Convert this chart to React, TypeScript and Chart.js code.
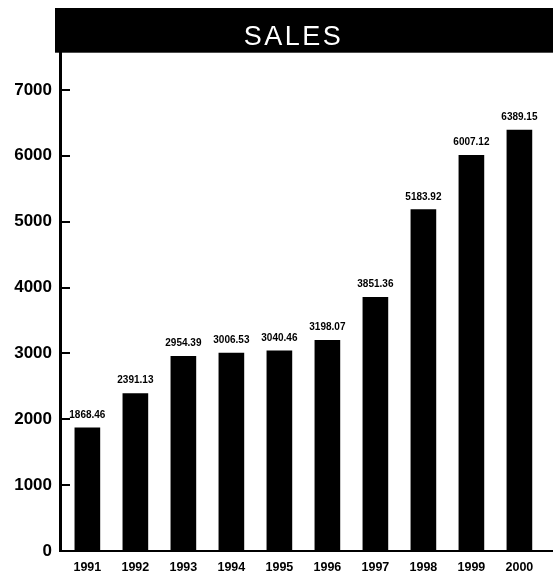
import React, { useEffect, useRef } from "react";
import { Chart, registerables } from "chart.js";

Chart.register(...registerables);

const years: number[] = [1991, 1992, 1993, 1994, 1995, 1996, 1997, 1998, 1999, 2000];
const sales: number[] = [1868.46, 2391.13, 2954.39, 3006.53, 3040.46, 3198.07, 3851.36, 5183.92, 6007.12, 6389.15];
const yTicks: number[] = [0, 1000, 2000, 3000, 4000, 5000, 6000, 7000];
const titleText = "SALES";

const FONT = "'Liberation Sans', Arial, Helvetica, sans-serif";

const titleBarPlugin = {
  id: "titleBar",
  afterLayout(chart: any) {
    const tb = chart.titleBlock;
    if (!tb) return;
    // shift title centring box so text sits where the reference has it
    tb.left = 34;
    tb.right = chart.width;
    tb.width = tb.right - tb.left;
    if (!tb.__spaced) {
      const orig = tb.draw;
      tb.draw = function (...args: any[]) {
        const ctx = chart.ctx;
        ctx.save();
        (ctx as any).letterSpacing = "2.5px";
        orig.apply(this, args);
        ctx.restore();
      };
      tb.__spaced = true;
    }
  },
  beforeDraw(chart: any) {
    const ctx = chart.ctx;
    const tb = chart.titleBlock;
    if (!tb) return;
    ctx.save();
    ctx.fillStyle = "#000";
    const left = chart.chartArea.left - 5;
    ctx.fillRect(left, tb.top, chart.width - left, tb.height);
    ctx.restore();
  },
};

const innerTicksPlugin = {
  id: "innerTicks",
  afterDraw(chart: any) {
    const ctx = chart.ctx;
    const y = chart.scales.y;
    const left = chart.chartArea.left;
    ctx.save();
    ctx.strokeStyle = "#000";
    ctx.lineWidth = 2;
    for (const v of yTicks) {
      const py = Math.round(y.getPixelForValue(v));
      ctx.beginPath();
      ctx.moveTo(left, py);
      ctx.lineTo(left + 10, py);
      ctx.stroke();
    }
    ctx.restore();
  },
};

const valueLabelPlugin = {
  id: "valueLabels",
  afterDatasetsDraw(chart: any) {
    const ctx = chart.ctx;
    const meta = chart.getDatasetMeta(0);
    ctx.save();
    ctx.fillStyle = "#000";
    ctx.font = `bold 10px ${FONT}`;
    ctx.textAlign = "center";
    ctx.textBaseline = "alphabetic";
    meta.data.forEach((bar: any, i: number) => {
      ctx.fillText(sales[i].toFixed(2), bar.x, bar.y - 10);
    });
    ctx.restore();
  },
};

export default function App() {
  const ref = useRef<HTMLCanvasElement | null>(null);

  useEffect(() => {
    if (!ref.current) return;
    const chart = new Chart(ref.current, {
      type: "bar",
      data: {
        datasets: [
          {
            label: "Sales",
            data: years.map((yr, i) => ({ x: yr, y: sales[i] })),
            backgroundColor: "#000",
            borderWidth: 0,
            barThickness: 25,
          },
        ],
      },
      options: {
        responsive: false,
        animation: false,
        layout: { padding: { left: 0, top: 8, right: 0, bottom: 0 } },
        plugins: {
          legend: { display: false },
          tooltip: { enabled: false },
          title: {
            display: true,
            text: titleText,
            color: "#fff",
            fullSize: true,
            font: { family: FONT, size: 27, weight: "normal", lineHeight: 1.1 },
            padding: { top: 14.5, bottom: 0.5 },
          },
        },
        scales: {
          x: {
            type: "linear",
            offset: false,
            min: 1990.43,
            max: 2000.7,
            grid: { display: false, drawTicks: false, offset: false },
            border: { display: true, color: "#000", width: 2 },
            afterBuildTicks: (scale: any) => {
              scale.ticks = years.map((v) => ({ value: v }));
            },
            afterFit: (scale: any) => {
              scale.height = 26;
            },
            ticks: {
              color: "#000",
              padding: 9,
              maxRotation: 0,
              autoSkip: false,
              font: { family: FONT, size: 12.5, weight: "bold" },
              callback: (v: any) => String(v),
            },
          },
          y: {
            type: "linear",
            min: 0,
            max: 7565,
            grid: { display: false, drawTicks: false },
            border: { display: true, color: "#000", width: 3 },
            afterBuildTicks: (scale: any) => {
              scale.ticks = yTicks.map((v) => ({ value: v }));
            },
            afterFit: (scale: any) => {
              scale.width = 60;
            },
            ticks: {
              color: "#000",
              padding: 8,
              font: { family: FONT, size: 17, weight: "bold" },
              callback: (v: any) => String(v),
            },
          },
        },
      },
      plugins: [titleBarPlugin, innerTicksPlugin, valueLabelPlugin],
    } as any);
    return () => chart.destroy();
  }, []);

  return (
    <div style={{ position: "absolute", left: 0, top: 0, width: 553, height: 577, background: "#fff" }}>
      <canvas ref={ref} width={553} height={577} style={{ display: "block" }} />
    </div>
  );
}
